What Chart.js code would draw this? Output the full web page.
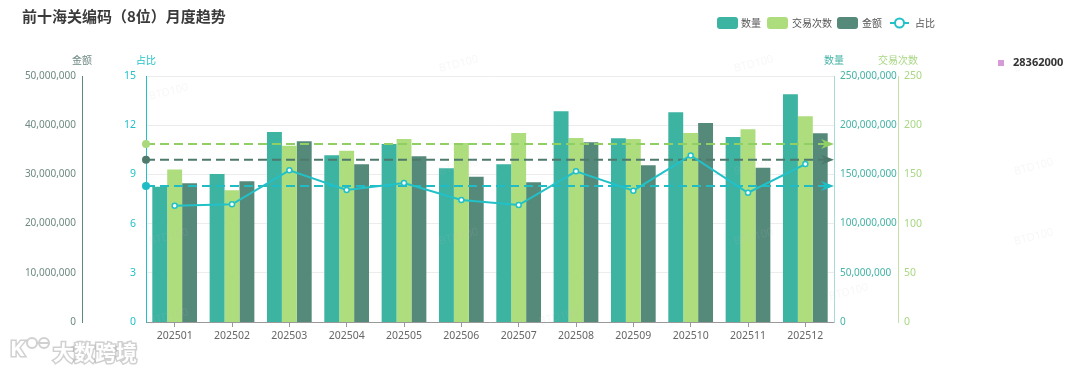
<!DOCTYPE html>
<html>
<head>
<meta charset="utf-8">
<script src="https://cdn.jsdelivr.net/npm/chart.js@4.4.1/dist/chart.umd.min.js"></script>
<style>
  html, body { margin: 0; padding: 0; background: #fff; }
  #wrap { width: 1080px; height: 368px; }
</style>
</head>
<body>
<div id="wrap"><canvas id="c" width="1080" height="368"></canvas></div>
<script>
// monthly data
const months = ['202501', '202502', '202503', '202504', '202505', '202506',
                '202507', '202508', '202509', '202510', '202511', '202512'];
const quantity = [137500000, 150400000, 193100000, 169400000, 180900000, 156200000,
                  160300000, 214100000, 186700000, 213100000, 188000000, 231400000];
const tradeCount = [155, 134, 179, 174, 186, 182, 192, 187, 186, 192, 196, 209];
const amount = [28190000, 28600000, 36730000, 32050000, 33680000, 29530000,
                28390000, 36520000, 31850000, 40450000, 31360000, 38350000];
const share = [7.09, 7.18, 9.25, 8.05, 8.48, 7.44, 7.13, 9.19, 8.01, 10.16, 7.88, 9.63];
const extraLabel = '28362000';

const C_QTY = '#3db3a2';
const C_CNT = '#aedd7e';
const C_AMT = '#558a7b';
const C_SHARE = '#22c1c8';

const CJK = '"Noto Sans CJK SC", "Noto Sans", sans-serif';
Chart.defaults.font.family = '"Noto Sans", "Noto Sans CJK SC", sans-serif';

const avg = arr => arr.reduce((a, b) => a + b, 0) / arr.length;
const fmt = v => Number(v).toLocaleString('en-US');

function fixWidth(w) {
    return scale => { scale.width = w; };
}

// dashed average lines, start dot + arrow at the end
const markLines = [
    { axis: 'yCnt', data: tradeCount, color: '#8fcf63', dot: '#a9d97c' },
    { axis: 'yAmt', data: amount, color: '#4d7a6d', dot: '#4d7a6d' },
    { axis: 'yShare', data: share, color: '#1fbcc5', dot: '#1fbcc5' },
];

const decor = {
    id: 'decor',
    beforeDatasetDraw(chart, args) {
        if (args.index !== 3) return;
        const ctx = chart.ctx;
        const { left, right } = chart.chartArea;
        markLines.forEach(m => {
            const y = chart.scales[m.axis].getPixelForValue(avg(m.data));
            ctx.save();
            ctx.strokeStyle = m.color;
            ctx.lineWidth = 2;
            ctx.setLineDash([9, 5]);
            ctx.beginPath();
            ctx.moveTo(left, y);
            ctx.lineTo(right - 6, y);
            ctx.stroke();
            ctx.setLineDash([]);
            ctx.fillStyle = m.dot;
            ctx.beginPath();
            ctx.arc(left, y, 4, 0, Math.PI * 2);
            ctx.fill();
            ctx.fillStyle = m.color;
            ctx.beginPath();
            ctx.moveTo(right, y);
            ctx.lineTo(right - 13, y - 5);
            ctx.lineTo(right - 9, y);
            ctx.lineTo(right - 13, y + 5);
            ctx.closePath();
            ctx.fill();
            ctx.restore();
        });
    },
    afterDraw(chart) {
        const ctx = chart.ctx;
        const s = chart.scales;
        ctx.save();

        // faint watermark
        ctx.fillStyle = 'rgba(190,190,190,0.13)';
        ctx.font = '11px "Noto Sans", sans-serif';
        [[440, 72], [735, 72], [1015, 72], [150, 100], [440, 175], [735, 175], [1015, 175],
         [150, 245], [440, 245], [735, 245], [1015, 245], [150, 325], [540, 325], [830, 300]].forEach(p => {
            ctx.save();
            ctx.translate(p[0], p[1]);
            ctx.rotate(-0.25);
            ctx.fillText('BTD100', 0, 0);
            ctx.restore();
        });

        // title
        ctx.fillStyle = '#3a3a3a';
        ctx.font = 'bold 15px ' + CJK;
        ctx.textBaseline = 'middle';
        ctx.textAlign = 'left';
        ctx.fillText('前十海关编码（8位）月度趋势', 22, 16);

        // legend
        ctx.font = '10px ' + CJK;
        const sw = (x, col) => {
            ctx.fillStyle = col;
            ctx.beginPath();
            ctx.roundRect(x, 17, 21, 12, 3);
            ctx.fill();
        };
        sw(717, C_QTY);
        ctx.fillStyle = '#555';
        ctx.fillText('数量', 741, 23);
        sw(767, C_CNT);
        ctx.fillStyle = '#555';
        ctx.fillText('交易次数', 792, 23);
        sw(837, C_AMT);
        ctx.fillStyle = '#555';
        ctx.fillText('金额', 862, 23);
        ctx.strokeStyle = C_SHARE;
        ctx.lineWidth = 2;
        ctx.beginPath();
        ctx.moveTo(890, 23);
        ctx.lineTo(909, 23);
        ctx.stroke();
        ctx.fillStyle = '#fff';
        ctx.beginPath();
        ctx.arc(899.5, 23, 4.5, 0, Math.PI * 2);
        ctx.fill();
        ctx.stroke();
        ctx.fillStyle = '#555';
        ctx.fillText('占比', 915, 23);

        // axis names above each axis
        ctx.textAlign = 'center';
        ctx.fillStyle = '#6f8a83';
        ctx.fillText('金额', s.yAmt.right, 60);
        ctx.fillStyle = C_SHARE;
        ctx.fillText('占比', s.yShare.right, 60);
        ctx.fillStyle = '#45b3a5';
        ctx.fillText('数量', s.yQty.left, 60);
        ctx.fillStyle = '#a9d784';
        ctx.fillText('交易次数', s.yCnt.left, 60);

        // stray label on the right
        ctx.fillStyle = '#d69ad6';
        ctx.fillRect(998, 60, 6, 6);
        ctx.fillStyle = '#333';
        ctx.font = 'bold 11px "Noto Sans", sans-serif';
        ctx.textAlign = 'left';
        ctx.fillText(extraLabel, 1013, 63);

        // logo bottom-left
        ctx.font = 'bold 21px ' + CJK;
        ctx.lineWidth = 3;
        ctx.strokeStyle = 'rgba(170,170,170,0.55)';
        ctx.fillStyle = '#fff';
        ctx.strokeText('大数跨境', 53, 352);
        ctx.fillText('大数跨境', 53, 352);
        ctx.font = 'bold 22px "Noto Sans", sans-serif';
        ctx.strokeText('K', 10, 350);
        ctx.fillText('K', 10, 350);
        ctx.beginPath();
        ctx.arc(32, 343, 5, 0, Math.PI * 2);
        ctx.arc(44, 343, 5, 0, Math.PI * 2);
        ctx.lineWidth = 2;
        ctx.stroke();
        ctx.restore();
    }
};

const yBase = {
    type: 'linear',
    min: 0,
    beginAtZero: true,
    grid: { display: false, drawTicks: false },
};

new Chart(document.getElementById('c'), {
    data: {
        labels: months,
        datasets: [
            { type: 'bar', label: '数量', data: quantity, yAxisID: 'yQty', backgroundColor: C_QTY, order: 1 },
            { type: 'bar', label: '交易次数', data: tradeCount, yAxisID: 'yCnt', backgroundColor: C_CNT, order: 1 },
            { type: 'bar', label: '金额', data: amount, yAxisID: 'yAmt', backgroundColor: C_AMT, order: 1 },
            {
                type: 'line', label: '占比', data: share, yAxisID: 'yShare', order: 0,
                borderColor: C_SHARE, borderWidth: 2, tension: 0,
                pointRadius: 2.5, pointBorderWidth: 1.5,
                pointBackgroundColor: '#fff', pointBorderColor: C_SHARE,
            },
        ],
    },
    options: {
        responsive: false,
        animation: false,
        layout: { padding: { left: 0, right: 142, top: 76, bottom: 20 } },
        datasets: {
            bar: { categoryPercentage: 0.78, barPercentage: 1.0 },
        },
        plugins: {
            legend: { display: false },
            title: { display: false },
            tooltip: { enabled: false },
        },
        scales: {
            x: {
                type: 'category',
                offset: true,
                grid: { drawOnChartArea: false, offset: false, tickLength: 5, color: '#999' },
                border: { color: '#999' },
                ticks: { color: '#666', font: { size: 10.5 }, maxRotation: 0, autoSkip: false, padding: 3 },
                afterFit: scale => { scale.height = 26; },
            },
            yAmt: {
                ...yBase, position: 'left', weight: 1, max: 50000000,
                border: { color: '#5a8a7d' },
                ticks: { stepSize: 10000000, color: '#6f8a83', font: { size: 10 }, padding: 6, callback: fmt },
                afterFit: fixWidth(82),
            },
            yShare: {
                ...yBase, position: 'left', weight: 0, max: 15,
                grid: { display: true, drawTicks: false, color: '#ececec' },
                border: { color: C_SHARE },
                ticks: { stepSize: 3, color: C_SHARE, font: { size: 10.5 }, padding: 10 },
                afterFit: fixWidth(64),
            },
            yQty: {
                ...yBase, position: 'right', weight: 0, max: 250000000,
                border: { color: '#a6dcd6' },
                ticks: { stepSize: 50000000, color: '#45b3a5', font: { size: 10 }, padding: 6, callback: fmt },
                afterFit: fixWidth(64),
            },
            yCnt: {
                ...yBase, position: 'right', weight: 1, max: 250,
                border: { color: '#c3e3a6' },
                ticks: { stepSize: 50, color: '#a9d784', font: { size: 10.5 }, padding: 6 },
                afterFit: fixWidth(40),
            },
        },
    },
    plugins: [decor],
});
</script>
</body>
</html>
